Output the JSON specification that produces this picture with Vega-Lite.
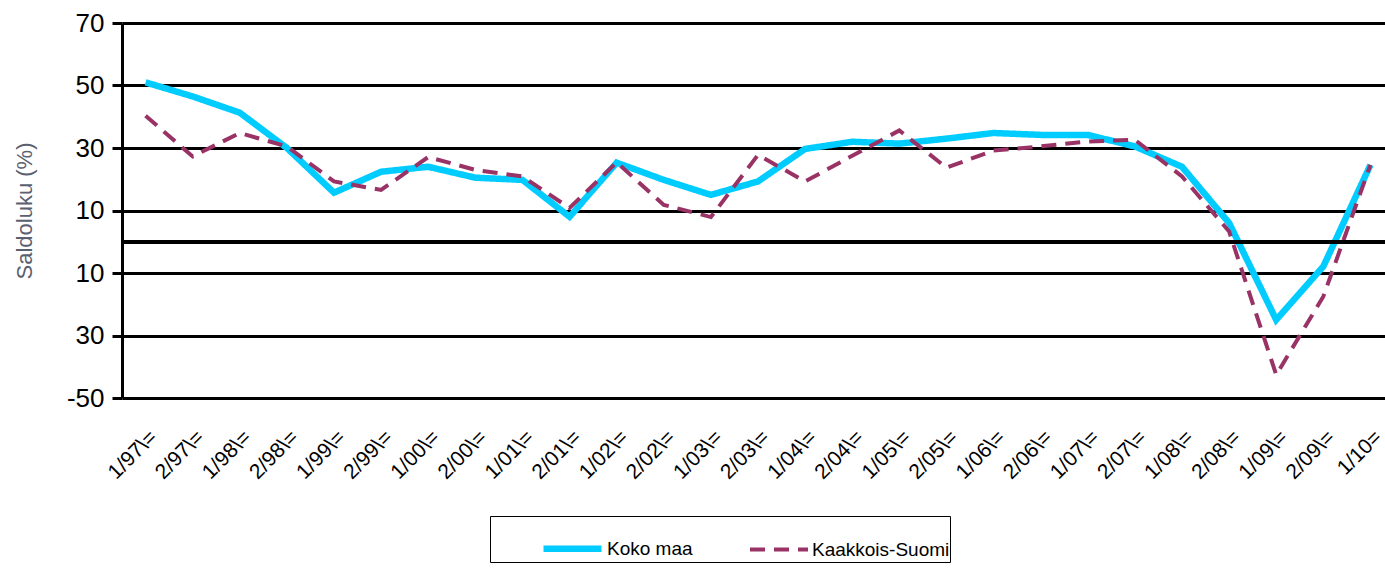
{
  "$schema": "https://vega.github.io/schema/vega-lite/v6.json",
  "width": 1272,
  "height": 375,
  "padding": {"left": 13, "top": 10, "right": 0, "bottom": 0},
  "background": "white",
  "config": {"font": "Liberation Sans", "view": {"stroke": null}},
  "datasets": {
    "d": [
      {"q": "1/97\\=", "s": "Koko maa", "v": 51}, {"q": "1/97\\=", "s": "Kaakkois-Suomi", "v": 40.3},
      {"q": "2/97\\=", "s": "Koko maa", "v": 46.5}, {"q": "2/97\\=", "s": "Kaakkois-Suomi", "v": 27.3},
      {"q": "1/98\\=", "s": "Koko maa", "v": 41.3}, {"q": "1/98\\=", "s": "Kaakkois-Suomi", "v": 34.8},
      {"q": "2/98\\=", "s": "Koko maa", "v": 30}, {"q": "2/98\\=", "s": "Kaakkois-Suomi", "v": 30.5},
      {"q": "1/99\\=", "s": "Koko maa", "v": 15.7}, {"q": "1/99\\=", "s": "Kaakkois-Suomi", "v": 19.3},
      {"q": "2/99\\=", "s": "Koko maa", "v": 22.4}, {"q": "2/99\\=", "s": "Kaakkois-Suomi", "v": 16.6},
      {"q": "1/00\\=", "s": "Koko maa", "v": 24}, {"q": "1/00\\=", "s": "Kaakkois-Suomi", "v": 27.1},
      {"q": "2/00\\=", "s": "Koko maa", "v": 20.5}, {"q": "2/00\\=", "s": "Kaakkois-Suomi", "v": 23},
      {"q": "1/01\\=", "s": "Koko maa", "v": 19.8}, {"q": "1/01\\=", "s": "Kaakkois-Suomi", "v": 20.9},
      {"q": "2/01\\=", "s": "Koko maa", "v": 8}, {"q": "2/01\\=", "s": "Kaakkois-Suomi", "v": 10.8},
      {"q": "1/02\\=", "s": "Koko maa", "v": 25.3}, {"q": "1/02\\=", "s": "Kaakkois-Suomi", "v": 25.4},
      {"q": "2/02\\=", "s": "Koko maa", "v": 19.8}, {"q": "2/02\\=", "s": "Kaakkois-Suomi", "v": 11.8},
      {"q": "1/03\\=", "s": "Koko maa", "v": 15}, {"q": "1/03\\=", "s": "Kaakkois-Suomi", "v": 7.9},
      {"q": "2/03\\=", "s": "Koko maa", "v": 19.3}, {"q": "2/03\\=", "s": "Kaakkois-Suomi", "v": 27.8},
      {"q": "1/04\\=", "s": "Koko maa", "v": 29.7}, {"q": "1/04\\=", "s": "Kaakkois-Suomi", "v": 19.3},
      {"q": "2/04\\=", "s": "Koko maa", "v": 32}, {"q": "2/04\\=", "s": "Kaakkois-Suomi", "v": 27.5},
      {"q": "1/05\\=", "s": "Koko maa", "v": 31.4}, {"q": "1/05\\=", "s": "Kaakkois-Suomi", "v": 35.6},
      {"q": "2/05\\=", "s": "Koko maa", "v": 33}, {"q": "2/05\\=", "s": "Kaakkois-Suomi", "v": 23.7},
      {"q": "1/06\\=", "s": "Koko maa", "v": 34.8}, {"q": "1/06\\=", "s": "Kaakkois-Suomi", "v": 29.2},
      {"q": "2/06\\=", "s": "Koko maa", "v": 34.2}, {"q": "2/06\\=", "s": "Kaakkois-Suomi", "v": 30.5},
      {"q": "1/07\\=", "s": "Koko maa", "v": 34.2}, {"q": "1/07\\=", "s": "Kaakkois-Suomi", "v": 32.1},
      {"q": "2/07\\=", "s": "Koko maa", "v": 30.5}, {"q": "2/07\\=", "s": "Kaakkois-Suomi", "v": 32.6},
      {"q": "1/08\\=", "s": "Koko maa", "v": 24}, {"q": "1/08\\=", "s": "Kaakkois-Suomi", "v": 20.9},
      {"q": "2/08\\=", "s": "Koko maa", "v": 6}, {"q": "2/08\\=", "s": "Kaakkois-Suomi", "v": 3.3},
      {"q": "1/09\\=", "s": "Koko maa", "v": -25}, {"q": "1/09\\=", "s": "Kaakkois-Suomi", "v": -42.6},
      {"q": "2/09\\=", "s": "Koko maa", "v": -7.9}, {"q": "2/09\\=", "s": "Kaakkois-Suomi", "v": -17.5},
      {"q": "1/10=", "s": "Koko maa", "v": 24.6}, {"q": "1/10=", "s": "Kaakkois-Suomi", "v": 24.6}
    ]
  },
  "data": {"name": "d"},
  "layer": [
    {
      "mark": {"type": "line", "strokeJoin": "miter"},
      "encoding": {
        "x": {
          "field": "q", "type": "nominal", "sort": null,
          "scale": {"type": "point", "padding": 0.5},
          "axis": {"title": null, "labelAngle": -45, "labelFontSize": 21, "labelColor": "black", "ticks": false, "domain": false, "grid": false, "labelPadding": 28}
        },
        "y": {
          "field": "v", "type": "quantitative",
          "scale": {"domain": [-50, 70], "nice": false, "zero": false},
          "axis": {
            "title": "Saldoluku (%)", "titleFontSize": 22, "titleFontWeight": "normal", "titleColor": "#5a6070", "titlePadding": 30,
            "values": [-50, -30, -10, 10, 30, 50, 70],
            "labelExpr": "datum.value === -50 ? '-50' : '' + abs(datum.value)",
            "labelFontSize": 26, "labelColor": "black", "labelPadding": 8,
            "tickSize": 10, "tickWidth": 3, "tickColor": "black",
            "domainColor": "black", "domainWidth": 3,
            "grid": true, "gridColor": "black", "gridWidth": 3
          }
        },
        "color": {"field": "s", "type": "nominal", "title": null,
          "scale": {"domain": ["Koko maa", "Kaakkois-Suomi"], "range": ["#00CCFF", "#993366"]},
          "legend": {"orient": "none", "legendX": 368, "legendY": 493, "direction": "horizontal",
            "strokeColor": "black", "padding": 0, "symbolType": "stroke", "symbolSize": 3364, "symbolStrokeWidth": 4,
            "symbolOffset": 50, "labelFontSize": 19, "labelColor": "black", "columnPadding": 5, "labelOffset": 2}
        },
        "strokeDash": {"field": "s", "type": "nominal", "title": null,
          "scale": {"domain": ["Koko maa", "Kaakkois-Suomi"], "range": [[1, 0], [15, 9]]}},
        "strokeWidth": {"field": "s", "type": "nominal", "legend": null,
          "scale": {"domain": ["Koko maa", "Kaakkois-Suomi"], "range": [6.5, 4]}},
        "order": {"field": "s"}
      }
    },
    {"mark": {"type": "rule", "color": "black", "strokeWidth": 3}, "encoding": {"y": {"datum": 0}}}
  ]
}
